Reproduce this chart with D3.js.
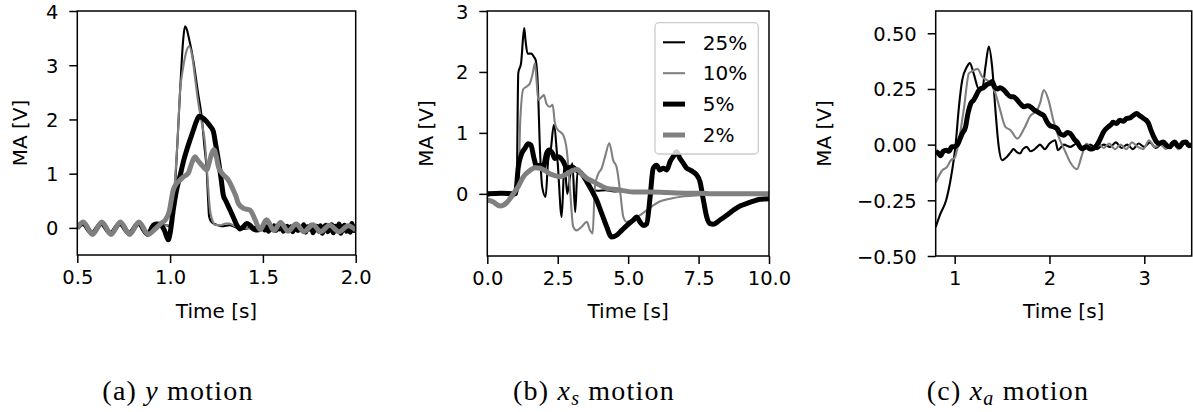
<!DOCTYPE html>
<html><head><meta charset="utf-8">
<script src="https://cdn.jsdelivr.net/npm/d3@7"></script>
<style>body{margin:0;background:#fff} svg{display:block}</style>
</head><body>
<svg id="c" width="1193" height="412"></svg>
<script>
// ---------- tick labels ----------
const xTicksA = [0.5, 1.0, 1.5, 2.0];
const yTicksA = [0, 1, 2, 3, 4];
const xTicksB = [0.0, 2.5, 5.0, 7.5, 10.0];
const yTicksB = [0, 1, 2, 3];
const xTicksC = [1, 2, 3];
const yTicksC = [-0.5, -0.25, 0, 0.25, 0.5];
const legendLabels = ["25%", "10%", "5%", "2%"];
const captions = ["(a)", "(b)", "(c)"];

// ---------- panel (a): y motion  [time s, MA V] ----------
const a25 = [[0.50,0.00],[0.53,0.08],[0.58,-0.09],[0.63,0.08],[0.68,-0.09],[0.73,0.08],[0.78,-0.09],[0.83,0.08],[0.88,-0.08],[0.92,0.03],[0.95,0.06],[0.98,0.05],[1.00,0.03],[1.02,0.45],[1.04,1.6],[1.055,2.6],[1.07,3.45],[1.08,3.72],[1.09,3.66],[1.10,3.52],[1.125,3.09],[1.15,2.5],[1.17,2.05],[1.185,1.5],[1.197,1.07],[1.205,0.5],[1.21,0.21],[1.225,0.1],[1.25,0.06],[1.28,0.03],[1.32,0.05],[1.36,0.0],[1.40,-0.02],[1.45,0.02],[1.50,-0.01],[1.53,0.03],[1.56,-0.04],[1.59,0.02],[1.62,-0.05],[1.65,0.03],[1.68,-0.06],[1.71,0.02],[1.74,-0.04],[1.77,0.04],[1.80,-0.07],[1.83,0.03],[1.86,-0.05],[1.89,0.05],[1.92,-0.08],[1.95,0.03],[1.98,-0.06],[2.0,0.02]];
const a10 = [[0.50,-0.02],[0.53,0.07],[0.58,-0.1],[0.63,0.07],[0.68,-0.1],[0.73,0.07],[0.78,-0.1],[0.83,0.07],[0.88,-0.1],[0.93,0.02],[0.97,0.05],[1.00,0.05],[1.015,0.3],[1.026,0.83],[1.04,1.6],[1.053,2.49],[1.07,2.95],[1.09,3.28],[1.103,3.35],[1.12,3.15],[1.135,2.75],[1.152,2.3],[1.17,1.95],[1.188,1.56],[1.20,1.0],[1.215,0.33],[1.23,0.12],[1.242,0.055],[1.27,0.05],[1.30,0.08],[1.32,0.08],[1.35,0.03],[1.40,0.0],[1.45,-0.02],[1.50,0.0],[1.55,-0.03],[1.60,0.02],[1.65,-0.04],[1.70,0.01],[1.75,-0.04],[1.80,0.02],[1.85,-0.05],[1.90,0.01],[1.95,-0.04],[2.0,-0.01]];
const a5 = [[0.50,0.0],[0.53,0.08],[0.58,-0.1],[0.63,0.08],[0.68,-0.1],[0.73,0.08],[0.78,-0.1],[0.83,0.08],[0.88,-0.12],[0.91,0.05],[0.93,0.07],[0.95,0.05],[0.97,-0.05],[0.99,-0.22],[1.00,-0.1],[1.017,0.33],[1.035,0.7],[1.053,0.95],[1.07,1.2],[1.09,1.44],[1.11,1.65],[1.125,1.8],[1.14,1.95],[1.157,2.06],[1.175,2.03],[1.197,1.96],[1.215,1.88],[1.233,1.78],[1.245,1.55],[1.26,1.25],[1.275,0.9],[1.287,0.6],[1.30,0.5],[1.323,0.33],[1.34,0.2],[1.359,0.055],[1.377,-0.02],[1.395,0.02],[1.413,0.08],[1.43,0.05],[1.449,-0.02],[1.47,-0.04],[1.50,0.0],[1.51,-0.04],[1.52,0.02],[1.53,-0.06],[1.54,0.01],[1.55,-0.03],[1.56,0.04],[1.57,-0.05],[1.58,0.0],[1.59,-0.02],[1.60,0.05],[1.61,-0.06],[1.62,-0.01],[1.63,0.03],[1.64,-0.04],[1.65,0.02],[1.66,-0.07],[1.67,0.01],[1.68,0.04],[1.69,-0.05],[1.70,0.0],[1.71,-0.03],[1.72,0.06],[1.73,-0.08],[1.74,0.02],[1.75,-0.02],[1.76,0.05],[1.77,-0.09],[1.78,0.0],[1.79,0.03],[1.80,-0.06],[1.81,0.04],[1.82,-0.1],[1.83,0.01],[1.84,0.05],[1.85,-0.07],[1.86,-0.02],[1.87,0.06],[1.88,-0.09],[1.89,0.03],[1.90,-0.04],[1.91,0.07],[1.92,-0.1],[1.93,0.0],[1.94,0.05],[1.95,-0.06],[1.96,0.02],[1.97,-0.08],[1.98,0.08],[1.99,-0.05],[2.00,0.04]];
const a2 = [[0.50,0.0],[0.532,0.11],[0.582,-0.12],[0.632,0.11],[0.682,-0.12],[0.732,0.11],[0.782,-0.12],[0.832,0.11],[0.882,-0.12],[0.92,-0.02],[0.95,0.08],[0.975,0.15],[0.995,0.3],[1.017,0.7],[1.035,0.82],[1.053,0.88],[1.075,0.95],[1.098,1.01],[1.115,1.18],[1.134,1.31],[1.15,1.24],[1.17,1.16],[1.197,1.07],[1.212,1.22],[1.224,1.37],[1.237,1.44],[1.25,1.3],[1.26,1.13],[1.275,1.03],[1.287,0.98],[1.314,0.88],[1.34,0.7],[1.355,0.58],[1.368,0.45],[1.395,0.36],[1.43,0.33],[1.445,0.25],[1.458,0.15],[1.485,-0.03],[1.52,0.15],[1.56,-0.05],[1.595,0.1],[1.635,-0.06],[1.68,0.07],[1.72,-0.07],[1.77,0.06],[1.81,-0.07],[1.86,0.05],[1.91,-0.07],[1.96,0.04],[2.0,-0.04]];

// ---------- panel (b): x_s motion ----------
const b25 = [[0,-0.03],[0.3,0.0],[0.6,0.02],[0.9,0.0],[1.04,0.05],[1.10,1.98],[1.2,2.15],[1.31,2.72],[1.36,2.5],[1.43,2.3],[1.57,2.3],[1.65,2.25],[1.72,2.19],[1.79,1.81],[1.87,0.72],[1.95,0.11],[2.07,-0.05],[2.16,0.55],[2.26,0.75],[2.36,1.13],[2.5,0.5],[2.64,-0.38],[2.74,0.5],[2.84,0.0],[2.94,0.3],[3.02,0.5],[3.12,-0.3],[3.2,0.35],[3.35,0.3],[3.5,0.22],[3.7,0.08],[3.9,0.05],[4.2,0.06],[4.5,0.04],[4.8,0.05],[5.2,0.03],[5.6,0.04],[6.0,0.02],[6.5,0.03],[7.0,0.01],[7.5,0.02],[8.0,0.0],[8.5,0.01],[9.0,-0.01],[9.5,0.01],[10,0.0]];
const b10 = [[0,-0.1],[0.25,-0.15],[0.5,-0.2],[0.75,-0.12],[1.0,0.0],[1.1,0.1],[1.17,1.2],[1.28,1.72],[1.4,1.76],[1.51,1.81],[1.6,1.95],[1.69,2.14],[1.75,1.85],[1.81,1.54],[1.93,1.59],[2.01,1.62],[2.1,1.48],[2.22,1.43],[2.32,1.46],[2.4,1.16],[2.5,1.05],[2.58,1.02],[2.7,0.96],[2.82,0.72],[2.93,0.12],[3.05,-0.54],[3.17,-0.6],[3.35,-0.54],[3.53,-0.46],[3.65,-0.6],[3.74,-0.65],[3.82,0.12],[3.94,0.33],[4.06,0.42],[4.18,0.61],[4.33,0.83],[4.47,0.55],[4.59,0.44],[4.71,0.06],[4.83,-0.38],[4.95,-0.46],[5.18,-0.43],[5.42,-0.35],[5.66,-0.27],[5.89,-0.19],[6.1,-0.13],[6.49,-0.08],[7.0,-0.04],[7.66,-0.02],[8.2,0.0],[9.0,0.01],[10,0.0]];
const b5 = [[0,0.0],[0.5,0.01],[1.0,0.0],[1.1,0.44],[1.22,0.66],[1.34,0.75],[1.45,0.82],[1.55,0.8],[1.65,0.6],[1.75,0.45],[1.87,0.47],[1.99,0.44],[2.1,0.66],[2.2,0.72],[2.32,0.66],[2.4,0.58],[2.52,0.61],[2.7,0.53],[2.82,0.42],[3.0,0.44],[3.17,0.39],[3.35,0.33],[3.53,0.2],[3.7,0.06],[3.88,-0.1],[4.06,-0.32],[4.24,-0.54],[4.41,-0.71],[4.59,-0.68],[4.77,-0.6],[4.95,-0.52],[5.18,-0.43],[5.3,-0.38],[5.42,-0.46],[5.54,-0.52],[5.66,-0.49],[5.78,-0.05],[5.89,0.42],[6.01,0.47],[6.13,0.39],[6.25,0.42],[6.37,0.39],[6.49,0.53],[6.6,0.61],[6.72,0.69],[6.84,0.58],[6.96,0.5],[7.08,0.42],[7.2,0.39],[7.31,0.36],[7.43,0.31],[7.55,0.2],[7.67,-0.1],[7.79,-0.38],[7.91,-0.49],[8.02,-0.5],[8.26,-0.43],[8.5,-0.35],[8.73,-0.27],[8.97,-0.2],[9.2,-0.16],[9.44,-0.12],[9.68,-0.09],[10,-0.08]];
const b2 = [[0,-0.1],[0.2,-0.13],[0.45,-0.2],[0.7,-0.14],[0.92,0.0],[1.1,0.12],[1.28,0.28],[1.5,0.38],[1.7,0.43],[1.87,0.42],[2.05,0.38],[2.22,0.33],[2.4,0.3],[2.58,0.28],[2.8,0.32],[3.05,0.39],[3.2,0.4],[3.35,0.33],[3.55,0.25],[3.76,0.2],[4.0,0.14],[4.24,0.09],[4.6,0.07],[5.18,0.03],[5.8,0.03],[6.37,0.02],[7.0,0.01],[7.5,0.01],[8.0,0.0],[9.0,0.0],[10,0.0]];

// ---------- panel (c): x_a motion ----------
const c25 = [[0.8,-0.37],[0.85,-0.31],[0.91,-0.25],[0.96,-0.15],[1.01,0.0],[1.045,0.17],[1.08,0.29],[1.13,0.35],[1.16,0.366],[1.2,0.32],[1.255,0.25],[1.29,0.25],[1.325,0.35],[1.36,0.44],[1.395,0.35],[1.43,0.155],[1.465,-0.01],[1.5,-0.07],[1.55,-0.055],[1.59,-0.035],[1.62,-0.02],[1.66,-0.035],[1.69,-0.04],[1.72,-0.02],[1.76,-0.01],[1.8,-0.03],[1.83,-0.025],[1.87,-0.01],[1.9,0.0],[1.95,-0.02],[2.0,0.005],[2.06,0.02],[2.09,-0.025],[2.15,0.0],[2.22,-0.01],[2.29,0.005],[2.36,-0.02],[2.43,0.0],[2.5,-0.02],[2.57,0.0],[2.64,-0.01],[2.7,0.01],[2.76,-0.015],[2.82,0.0],[2.88,-0.02],[2.94,0.005],[3.0,-0.01],[3.06,0.01],[3.12,-0.015],[3.18,0.0],[3.24,-0.01],[3.3,0.01],[3.36,-0.015],[3.42,0.005],[3.5,-0.01]];
const c10 = [[0.8,-0.17],[0.87,-0.115],[0.92,-0.1],[0.96,-0.07],[1.0,-0.06],[1.045,0.02],[1.1,0.17],[1.15,0.32],[1.185,0.33],[1.24,0.34],[1.29,0.305],[1.38,0.275],[1.43,0.23],[1.48,0.155],[1.535,0.08],[1.59,0.065],[1.66,0.027],[1.73,0.07],[1.8,0.13],[1.87,0.155],[1.9,0.185],[1.94,0.245],[1.99,0.2],[2.04,0.11],[2.11,0.02],[2.16,-0.025],[2.22,-0.08],[2.29,-0.11],[2.34,-0.05],[2.39,0.005],[2.45,-0.02],[2.51,0.01],[2.57,-0.015],[2.63,0.005],[2.69,-0.02],[2.75,0.0],[2.81,-0.02],[2.87,0.01],[2.93,-0.01],[2.99,-0.02],[3.05,0.02],[3.11,-0.01],[3.17,0.0],[3.23,-0.02],[3.3,0.01],[3.36,-0.02],[3.42,0.015],[3.5,-0.01]];
const c5 = [[0.8,-0.03],[0.83,-0.04],[0.85,-0.05],[0.88,-0.03],[0.91,-0.025],[0.94,-0.03],[0.97,-0.01],[0.99,-0.01],[1.03,0.0],[1.06,0.03],[1.08,0.05],[1.115,0.08],[1.14,0.14],[1.17,0.185],[1.2,0.2],[1.22,0.215],[1.25,0.24],[1.27,0.25],[1.3,0.255],[1.34,0.27],[1.37,0.275],[1.395,0.283],[1.42,0.26],[1.45,0.25],[1.48,0.255],[1.52,0.245],[1.55,0.23],[1.59,0.215],[1.62,0.215],[1.66,0.2],[1.7,0.18],[1.73,0.17],[1.77,0.175],[1.8,0.17],[1.84,0.155],[1.87,0.148],[1.9,0.14],[1.94,0.13],[1.97,0.105],[2.0,0.087],[2.04,0.08],[2.08,0.072],[2.11,0.05],[2.15,0.042],[2.19,0.055],[2.22,0.05],[2.26,0.025],[2.29,0.012],[2.34,-0.018],[2.39,-0.01],[2.43,-0.02],[2.46,-0.018],[2.51,0.005],[2.54,0.03],[2.57,0.057],[2.62,0.08],[2.65,0.09],[2.67,0.1],[2.71,0.095],[2.74,0.11],[2.78,0.105],[2.81,0.117],[2.85,0.12],[2.88,0.13],[2.92,0.14],[2.95,0.13],[2.97,0.125],[3.0,0.115],[3.02,0.11],[3.05,0.09],[3.07,0.065],[3.1,0.035],[3.13,0.012],[3.16,0.005],[3.2,0.012],[3.24,-0.005],[3.27,-0.01],[3.3,0.005],[3.32,0.012],[3.35,-0.005],[3.37,-0.01],[3.41,0.01],[3.44,0.012],[3.47,-0.005],[3.5,0.0]];

// ---------- styles ----------
const styles = [
  {color:"#000000", width:2.1},
  {color:"#808080", width:2.1},
  {color:"#000000", width:5},
  {color:"#808080", width:5}
];

const panels = [
  {x0:77.3, x1:355.7, y0:11, y1:255, xd:[0.5,2.0], yd:[-0.5,4], xt:xTicksA, yt:yTicksA,
   xf:d3.format(".1f"), yf:d3.format("d"), series:[a25,a10,a5,a2], ylabX:27, capX:178, cap:"a", sub:null, sym:"y"},
  {x0:487.3, x1:769, y0:11, y1:256, xd:[0,10], yd:[-1.02,3], xt:xTicksB, yt:yTicksB,
   xf:d3.format(".1f"), yf:d3.format("d"), series:[b25,b10,b5,b2], ylabX:433, capX:594, cap:"b", sub:"s", sym:"x", legend:true},
  {x0:935.7, x1:1191.7, y0:11, y1:256, xd:[0.8,3.5], yd:[-0.5,0.6], xt:xTicksC, yt:yTicksC,
   xf:d3.format("d"), yf:d3.format(".2f"), series:[c25,c10,c5], ylabX:831, capX:1008, cap:"c", sub:"a", sym:"x"}
];

const svg = d3.select("#c");
svg.append("rect").attr("width",1193).attr("height",412).attr("fill","#fff");
const FONT = "DejaVu Sans, sans-serif";

panels.forEach((p, i) => {
  const x = d3.scaleLinear().domain(p.xd).range([p.x0, p.x1]);
  const y = d3.scaleLinear().domain(p.yd).range([p.y1, p.y0]);
  const clipId = "clip" + i;
  svg.append("clipPath").attr("id", clipId).append("rect")
    .attr("x", p.x0).attr("y", p.y0).attr("width", p.x1 - p.x0).attr("height", p.y1 - p.y0);

  const line = d3.line().x(d => x(d[0])).y(d => y(d[1])).curve(d3.curveMonotoneX);
  const g = svg.append("g").attr("clip-path", `url(#${clipId})`);
  p.series.forEach((s, k) => {
    g.append("path").attr("d", line(s)).attr("fill","none")
      .attr("stroke", styles[k].color).attr("stroke-width", styles[k].width)
      .attr("stroke-linejoin","round").attr("stroke-linecap","butt");
  });

  // axes
  const xAxis = d3.axisBottom(x).tickValues(p.xt).tickFormat(p.xf).tickSize(8).tickPadding(6);
  const yAxis = d3.axisLeft(y).tickValues(p.yt).tickFormat(p.yf).tickSize(8).tickPadding(11);
  const gx = svg.append("g").attr("transform", `translate(0,${p.y1})`).call(xAxis);
  const gy = svg.append("g").attr("transform", `translate(${p.x0},0)`).call(yAxis);
  [gx, gy].forEach(ax => {
    ax.select(".domain").remove();
    ax.selectAll(".tick line").attr("stroke","#000").attr("stroke-width",1.5);
    ax.selectAll(".tick text").attr("font-family", FONT).attr("font-size", 19.5).attr("fill","#000");
  });
  gy.selectAll(".tick text").attr("dy", "0.36em");
  gx.selectAll(".tick text").attr("dy", "0.76em");

  // frame
  svg.append("rect").attr("x", p.x0).attr("y", p.y0).attr("width", p.x1 - p.x0).attr("height", p.y1 - p.y0)
    .attr("fill","none").attr("stroke","#000").attr("stroke-width",1.5);

  // labels
  svg.append("text").attr("x", (p.x0 + p.x1) / 2).attr("y", 318).attr("text-anchor","middle")
    .attr("font-family", FONT).attr("font-size", 20).text("Time [s]");
  svg.append("text").attr("transform", `translate(${p.ylabX},${(p.y0 + p.y1) / 2}) rotate(-90)`)
    .attr("text-anchor","middle").attr("font-family", FONT).attr("font-size", 20).text("MA [V]");

  // caption
  const cap = svg.append("text").attr("x", p.capX).attr("y", 400).attr("text-anchor","middle")
    .attr("font-family","Liberation Serif, serif").attr("font-size", 28).attr("letter-spacing", 1.2);
  cap.append("tspan").text(captions[i] + " ");
  cap.append("tspan").attr("font-style","italic").text(p.sym);
  if (p.sub) {
    cap.append("tspan").attr("font-style","italic").attr("font-size", 20).attr("dy", 5).text(p.sub);
    cap.append("tspan").attr("dy", -5).text(" motion");
  } else {
    cap.append("tspan").text(" motion");
  }

  // legend
  if (p.legend) {
    const lx = p.x1 - 10.7 - 103.3, ly = p.y0 + 11.7;
    svg.append("rect").attr("x", lx).attr("y", ly).attr("width", 103.3).attr("height", 131.3)
      .attr("rx", 4).attr("fill","#fff").attr("fill-opacity",0.8).attr("stroke","#cccccc").attr("stroke-width",1.3);
    legendLabels.forEach((lab, k) => {
      const ry = ly + 19.6 + k * 30.9;
      svg.append("line").attr("x1", lx + 8).attr("x2", lx + 30).attr("y1", ry).attr("y2", ry)
        .attr("stroke", styles[k].color).attr("stroke-width", styles[k].width);
      svg.append("text").attr("x", lx + 47.7).attr("y", ry).attr("dy","0.36em")
        .attr("font-family", FONT).attr("font-size", 20).text(lab);
    });
  }
});
</script>
</body></html>
